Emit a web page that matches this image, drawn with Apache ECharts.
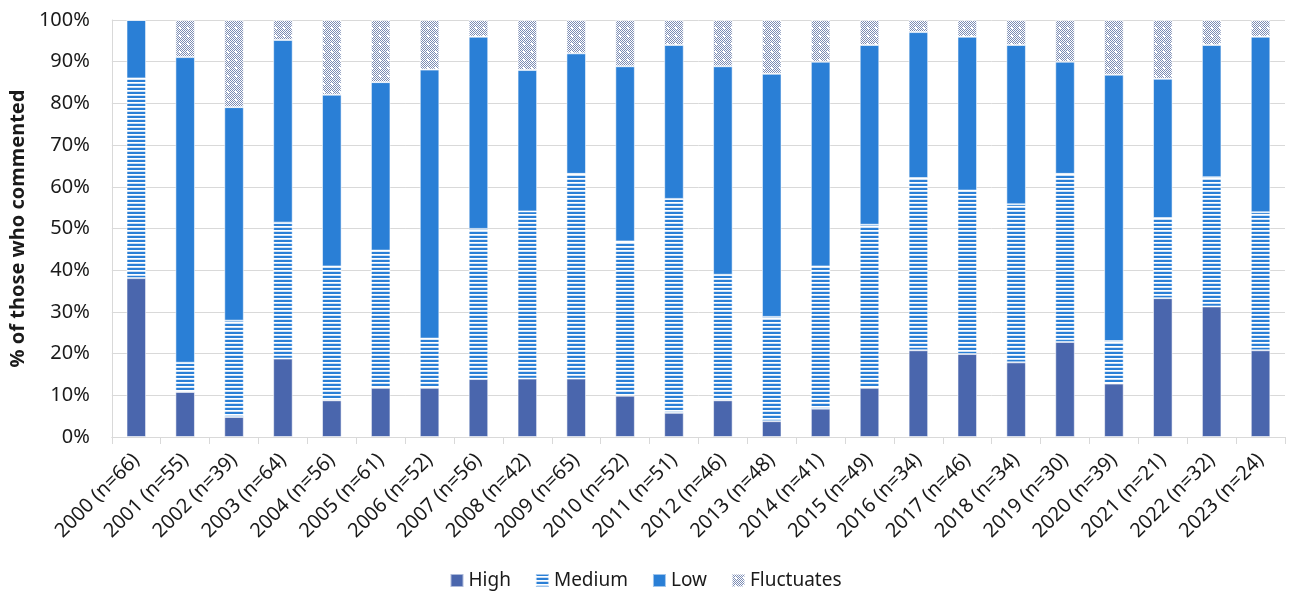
<!DOCTYPE html>
<html>
<head>
<meta charset="utf-8">
<title>Comment share by year</title>
<script src="https://cdn.jsdelivr.net/npm/echarts@6/dist/echarts.min.js"></script>
<style>
  html, body { margin: 0; padding: 0; background: #fff; }
  #chart { width: 1291px; height: 593px; }
</style>
</head>
<body>
<div id="chart"></div>
<script>
// categories and values (percent of those who commented)
var years = ["2000 (n=66)", "2001 (n=55)", "2002 (n=39)", "2003 (n=64)", "2004 (n=56)", "2005 (n=61)",
  "2006 (n=52)", "2007 (n=56)", "2008 (n=42)", "2009 (n=65)", "2010 (n=52)", "2011 (n=51)",
  "2012 (n=46)", "2013 (n=48)", "2014 (n=41)", "2015 (n=49)", "2016 (n=34)", "2017 (n=46)",
  "2018 (n=34)", "2019 (n=30)", "2020 (n=39)", "2021 (n=21)", "2022 (n=32)", "2023 (n=24)"];

var high = [38.1, 10.8, 4.8, 18.8, 8.8, 11.8, 11.8, 13.9, 14.0, 14.0, 9.9, 5.8,
  8.8, 3.8, 6.8, 11.8, 20.8, 19.9, 17.9, 22.8, 12.8, 33.3, 31.3, 20.8];
var medium = [47.9, 7.0, 23.1, 32.6, 32.1, 32.9, 11.8, 36.0, 40.1, 49.1, 37.0, 51.3,
  30.1, 25.0, 34.1, 39.1, 41.3, 39.2, 37.9, 40.3, 10.2, 19.2, 31.0, 33.1];
var low = [14.0, 73.3, 51.2, 43.8, 41.2, 40.4, 64.5, 46.1, 33.9, 28.9, 42.0, 36.9,
  50.0, 58.3, 49.1, 43.1, 35.0, 36.9, 38.2, 26.9, 63.9, 33.4, 31.7, 42.1];
var fluctuates = [0, 8.9, 20.9, 4.8, 17.9, 14.9, 11.9, 4.0, 12.0, 8.0, 11.1, 6.0,
  11.1, 12.9, 10.0, 6.0, 2.9, 4.0, 6.0, 10.0, 13.1, 14.1, 6.0, 4.0];

var FONT = "'Noto Sans', 'Open Sans', sans-serif";

// horizontal stripes for "Medium"
function stripePattern() {
  var c = document.createElement("canvas");
  c.width = 4; c.height = 4;
  var ctx = c.getContext("2d");
  ctx.fillStyle = "#ffffff";
  ctx.fillRect(0, 0, 4, 4);
  ctx.fillStyle = "#2a7fd6";
  ctx.fillRect(0, 0, 4, 2);
  ctx.fillStyle = "#cfe1f5";
  ctx.fillRect(0, 3, 4, 1);
  return c;
}

// small dotted grid for "Fluctuates"
function checkerPattern() {
  var c = document.createElement("canvas");
  c.width = 8; c.height = 8;
  var ctx = c.getContext("2d");
  ctx.fillStyle = "#ffffff";
  ctx.fillRect(0, 0, 8, 8);
  ctx.fillStyle = "#7b8cb4";
  for (var y = 0; y < 8; y++) {
    for (var x = 0; x < 8; x++) {
      if ((x + y) % 2 === 0) ctx.fillRect(x, y, 1, 1);
    }
  }
  ctx.fillStyle = "#ffffff";
  ctx.fillRect(3, 3, 2, 2);
  return c;
}

var chart = echarts.init(document.getElementById("chart"));

var barBorder = { borderColor: "rgba(255,255,255,0.55)", borderWidth: 1 };

chart.setOption({
  animation: false,
  textStyle: { fontFamily: FONT },
  grid: { left: 111, right: 6, top: 20, bottom: 156 },
  legend: {
    bottom: -2,
    left: "center",
    itemWidth: 13,
    itemHeight: 13,
    itemGap: 24,
    icon: "rect",
    textStyle: { fontSize: 19, color: "#1a1a1a", fontFamily: FONT },
    data: ["High", "Medium", "Low", "Fluctuates"]
  },
  xAxis: {
    type: "category",
    data: years,
    axisLine: { lineStyle: { color: "#d9d9d9" } },
    axisTick: { show: true, length: 7, interval: 0, lineStyle: { color: "#d9d9d9" } },
    axisLabel: { interval: 0, rotate: 45, margin: 20, fontSize: 20, color: "#1a1a1a", fontFamily: FONT }
  },
  yAxis: {
    type: "value",
    min: 0,
    max: 100,
    interval: 10,
    name: "% of those who commented",
    nameLocation: "middle",
    nameGap: 83,
    nameTextStyle: { fontSize: 20, fontWeight: "bold", color: "#1a1a1a", fontFamily: FONT },
    axisLine: { show: true, lineStyle: { color: "#d9d9d9" } },
    axisLabel: { formatter: "{value}%", margin: 22, fontSize: 20, color: "#1a1a1a", fontFamily: FONT },
    splitLine: { lineStyle: { color: "#d9d9d9" } }
  },
  series: [
    {
      name: "High", type: "bar", stack: "total", barWidth: "40%", data: high,
      itemStyle: Object.assign({ color: "#4a66ad" }, barBorder)
    },
    {
      name: "Medium", type: "bar", stack: "total", barWidth: "40%", data: medium,
      itemStyle: Object.assign({ color: { image: stripePattern(), repeat: "repeat" } }, barBorder)
    },
    {
      name: "Low", type: "bar", stack: "total", barWidth: "40%", data: low,
      itemStyle: Object.assign({ color: "#2a7fd6" }, barBorder)
    },
    {
      name: "Fluctuates", type: "bar", stack: "total", barWidth: "40%", data: fluctuates,
      itemStyle: Object.assign({ color: { image: checkerPattern(), repeat: "repeat" } }, barBorder)
    }
  ]
});
</script>
</body>
</html>
